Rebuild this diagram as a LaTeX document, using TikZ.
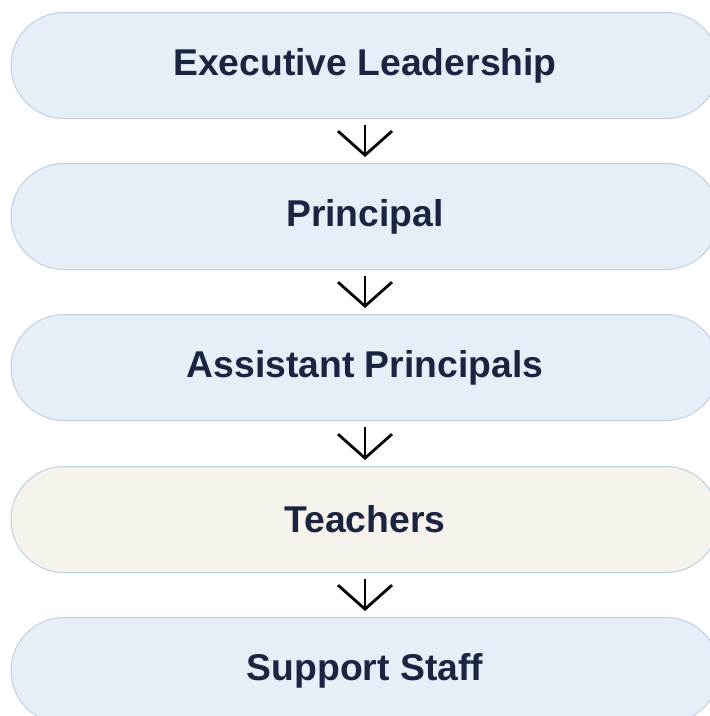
\documentclass[tikz,border=0pt]{standalone}
\usepackage{fontspec}
\setmainfont{Liberation Sans}
\usetikzlibrary{arrows.meta}
\definecolor{boxfill}{HTML}{E6EFF8}
\definecolor{boxline}{HTML}{BFD0E3}
\definecolor{warmfill}{HTML}{F6F2EC}
\definecolor{navy}{HTML}{1B2541}
\tikzset{
  stage/.style={draw=boxline, line width=1pt, fill=boxfill, rounded corners=53pt,
    minimum width=708pt, minimum height=106pt, inner sep=0pt,
    font=\fontsize{37.3}{44}\selectfont\bfseries, text=navy},
  flow/.style={draw=black, line width=2.8pt, -{Straight Barb[length=24pt,width=54pt,line width=2.8pt]}, shorten <=6pt, shorten >=6pt}
}
\begin{document}
\begin{tikzpicture}[x=1pt,y=1pt]
\useasboundingbox (0,0) rectangle (710,-716);
\clip (0,0) rectangle (710,-716);
\fill[white] (0,0) rectangle (710,-716);
\node[stage] (exec) at (365,-65.5) {Executive Leadership};
\node[stage] (prin) at (365,-216.5) {Principal};
\node[stage] (asst) at (365,-367.5) {Assistant Principals};
\node[stage, fill=warmfill] (teach) at (365,-519.5) {Teachers};
\node[stage] (supp) at (365,-670.5) {Support Staff};
\draw[flow] (exec.south) -- (prin.north);
\draw[flow] (prin.south) -- (asst.north);
\draw[flow] (asst.south) -- (teach.north);
\draw[flow] (teach.south) -- (supp.north);
\end{tikzpicture}
\end{document}
